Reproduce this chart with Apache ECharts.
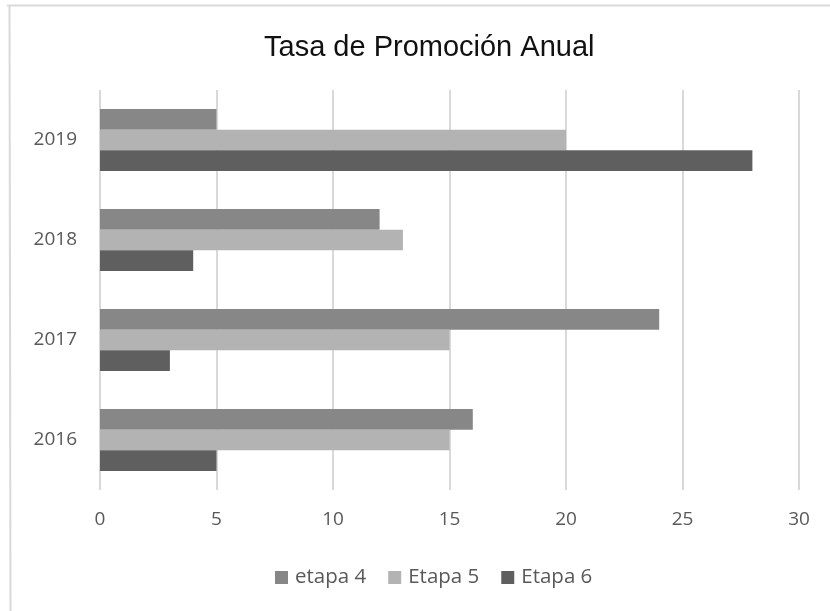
<!DOCTYPE html>
<html>
<head>
<meta charset="utf-8">
<script src="https://cdn.jsdelivr.net/npm/echarts@6/dist/echarts.min.js"></script>
<style>
  html, body { margin: 0; padding: 0; background: #fff; }
  #chart { width: 830px; height: 611px; }
</style>
</head>
<body>
<div id="chart"></div>
<script>
// 数据
const years = ['2016', '2017', '2018', '2019']
const etapa4 = [16, 24, 12, 5]
const etapa5 = [15, 15, 13, 20]
const etapa6 = [5, 3, 4, 28]
const xTicks = [0, 5, 10, 15, 20, 25, 30]

const chart = echarts.init(document.getElementById('chart'))

const labelFont = '"Open Sans", "Noto Sans", sans-serif'

const option = {
  animation: false,
  title: {
    text: 'Tasa de Promoción Anual',
    left: 259,
    top: 28,
    textStyle: {
      fontFamily: '"Liberation Sans", Arial, sans-serif',
      fontSize: 29,
      fontWeight: 'normal',
      color: '#111'
    }
  },
  graphic: [
    { type: 'line', shape: { x1: 7, y1: 5.5, x2: 830, y2: 5.5 }, style: { stroke: '#d9d9d9', lineWidth: 2 } },
    { type: 'line', shape: { x1: 9.5, y1: 5, x2: 10.5, y2: 611 }, style: { stroke: '#d9d9d9', lineWidth: 2 } }
  ],
  legend: {
    bottom: 18,
    left: 270,
    itemWidth: 13,
    itemHeight: 13,
    itemGap: 22,
    icon: 'rect',
    textStyle: { fontFamily: labelFont, fontSize: 20.5, color: '#595959', padding: [0, 0, 0, 2] },
    data: ['etapa 4', 'Etapa 5', 'Etapa 6']
  },
  grid: {
    left: 100,
    right: 31,
    top: 90,
    bottom: 121
  },
  xAxis: {
    type: 'value',
    min: xTicks[0],
    max: xTicks[xTicks.length - 1],
    interval: 5,
    axisLine: { show: false },
    axisTick: { show: false },
    axisLabel: {
      margin: 20,
      fontFamily: labelFont,
      fontSize: 19,
      color: '#595959'
    },
    splitLine: { lineStyle: { color: '#d9d9d9', width: 2 } }
  },
  yAxis: {
    type: 'category',
    data: years,
    axisLine: { show: false },
    axisTick: { show: false },
    axisLabel: {
      margin: 23,
      fontFamily: labelFont,
      fontSize: 19,
      color: '#595959'
    }
  },
  series: [
    {
      name: 'etapa 4',
      type: 'bar',
      data: etapa4,
      itemStyle: { color: '#878787' },
      barGap: '0%',
      barCategoryGap: '38%'
    },
    {
      name: 'Etapa 5',
      type: 'bar',
      data: etapa5,
      itemStyle: { color: '#b3b3b3' }
    },
    {
      name: 'Etapa 6',
      type: 'bar',
      data: etapa6,
      itemStyle: { color: '#5f5f5f' }
    }
  ]
}

chart.setOption(option)
</script>
</body>
</html>
